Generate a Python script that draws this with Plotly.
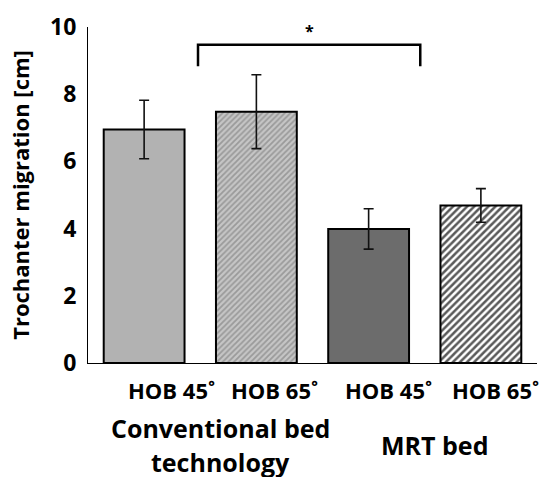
import plotly.graph_objects as go

categories = ["c1", "c2", "c3", "c4"]
tick_labels = ["HOB 45˚", "HOB 65˚", "HOB 45˚", "HOB 65˚"]
values = [6.95, 7.48, 3.99, 4.69]
errors = [0.87, 1.1, 0.6, 0.5]
group_labels = ["Conventional bed", "technology", "MRT bed"]
y_ticks = [0, 2, 4, 6, 8, 10]

FONT = "Open Sans"

bar_colors = ["#b2b2b2", "#c6c6c6", "#6c6c6c", "#ffffff"]
pat_shapes = ["", "/", "", "/"]
pat_fg = ["#000000", "#9a9a9a", "#000000", "#5a5a5a"]
pat_size = [6, 4, 6, 5]
pat_sol = [0.3, 0.45, 0.3, 0.5]

# plot-area geometry (pixels) used to convert label positions
L, R, T, B = 88, 10, 22, 114
W, H = 547, 477
PW, PH = W - L - R, H - T - B


def px_x(px):
    return (px - L) / PW


def px_y(py):
    return (H - B - py) / PH


fig = go.Figure()
for i in range(4):
    fig.add_trace(go.Bar(
        x=[i], y=[values[i]],
        width=0.72,
        marker=dict(
            color=bar_colors[i],
            line=dict(color="#000000", width=2),
            pattern=dict(shape=pat_shapes[i], fgcolor=pat_fg[i], bgcolor=bar_colors[i],
                         size=pat_size[i], solidity=pat_sol[i], fillmode="replace"),
        ),
        error_y=dict(type="data", array=[errors[i]], visible=True, color="#111111",
                     thickness=1.6, width=5),
        showlegend=False,
    ))

fig.update_layout(
    width=W, height=H,
    barmode="overlay",
    margin=dict(l=L, r=R, t=T, b=B),
    plot_bgcolor="#ffffff", paper_bgcolor="#ffffff",
    font=dict(family=FONT, color="#000000"),
    xaxis=dict(range=[-0.5, 3.5], showticklabels=False, showgrid=False,
               zeroline=False, showline=True, linecolor="#000000", linewidth=1,
               ticks=""),
    yaxis=dict(range=[0, 10], tickvals=y_ticks, showgrid=False, zeroline=False,
               showline=True, linecolor="#000000", linewidth=1, ticks="",
               tickfont=dict(family=FONT, size=23, color="#000000", weight="bold"),
               ticklabelstandoff=6,
               title=dict(text="<b>Trochanter migration [cm]</b>", standoff=14,
                          font=dict(family=FONT, size=22, weight="bold"))),
)

# tick labels as annotations (offsets as in reference)
label_shift = [27, 18, 20, 15]
for i, t in enumerate(tick_labels):
    fig.add_annotation(x=i, y=px_y(390), yref="paper", xref="x", text=f"<b>{t}</b>",
                       showarrow=False, xshift=label_shift[i],
                       yanchor="middle",
                       font=dict(family=FONT, size=22, weight="bold"))

# group labels
group_pos = [(220, 429), (220, 463), (434, 446)]
for txt, (gx, gy) in zip(group_labels, group_pos):
    fig.add_annotation(xref="paper", yref="paper", x=px_x(gx), y=px_y(gy),
                       text=f"<b>{txt}</b>", showarrow=False,
                       xanchor="center", yanchor="middle",
                       font=dict(family=FONT, size=25, weight="bold"))

# significance bracket
bx0, bx1, by_top, by_end = 0.48, 2.46, 9.47, 8.83
fig.add_shape(type="path", xref="x", yref="y",
              path=f"M {bx0} {by_end} L {bx0} {by_top} L {bx1} {by_top} L {bx1} {by_end}",
              line=dict(color="#000000", width=2.5))
fig.add_annotation(x=(bx0 + bx1) / 2, y=by_top, xref="x", yref="y", text="<b>*</b>",
                   showarrow=False, yshift=14,
                   font=dict(family=FONT, size=16, weight="bold"))

fig.write_html("out.html")
